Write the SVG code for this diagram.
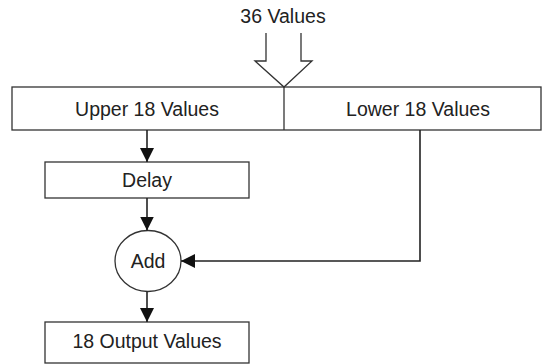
<svg xmlns="http://www.w3.org/2000/svg" width="545" height="364" viewBox="0 0 545 364">
<defs>
<style>
.box{fill:#fff;stroke:#333;stroke-width:1.3}
.ln{fill:none;stroke:#222;stroke-width:1.6}
.t{font-family:"Liberation Sans",Arial,sans-serif;font-size:19.5px;fill:#222;text-anchor:middle}
</style>
<marker id="ah" markerWidth="14" markerHeight="14" refX="14" refY="7" orient="auto" markerUnits="userSpaceOnUse" viewBox="0 0 14 14">
<path d="M0,0 L14,7 L0,14 Z" fill="#111"/>
</marker>
</defs>
<g id="label36">
<text class="t" x="283" y="23">36 Values</text>
</g>
<g id="split">
<rect class="box" x="12" y="87" width="529" height="43"/>
<line x1="284" y1="87" x2="284" y2="130" stroke="#333" stroke-width="1.3"/>
<text class="t" x="147" y="116">Upper 18 Values</text>
<text class="t" x="418" y="116">Lower 18 Values</text>
</g>
<g id="delay">
<rect class="box" x="45" y="162" width="204" height="36"/>
<text class="t" x="147" y="187">Delay</text>
</g>
<g id="add">
<ellipse class="box" cx="148" cy="261" rx="33" ry="30.5"/>
<text class="t" x="148" y="268">Add</text>
</g>
<g id="output">
<rect class="box" x="45" y="322" width="204" height="41"/>
<text class="t" x="147" y="348">18 Output Values</text>
</g>
<g id="connectors">
<path d="M266,33 V61 H255 L284,87 L312,61 H301 V33" fill="#fff" stroke="#333" stroke-width="1.3"/>
<line class="ln" x1="147" y1="130" x2="147" y2="162" marker-end="url(#ah)"/>
<line class="ln" x1="147" y1="198" x2="147" y2="230.5" marker-end="url(#ah)"/>
<line class="ln" x1="147" y1="291.5" x2="147" y2="322" marker-end="url(#ah)"/>
<path class="ln" d="M420,130 V261 H181" marker-end="url(#ah)"/>
</g>
</svg>
